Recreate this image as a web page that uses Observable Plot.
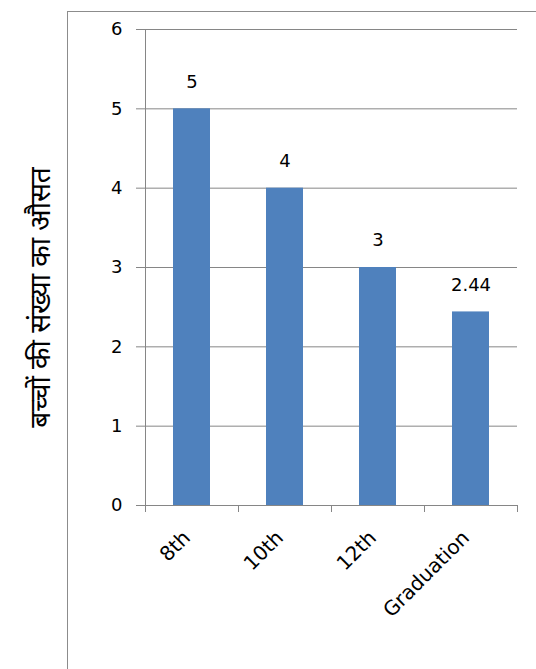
<!DOCTYPE html>
<html>
<head>
<meta charset="utf-8">
<script src="https://cdn.jsdelivr.net/npm/d3@7"></script>
<script src="https://cdn.jsdelivr.net/npm/@observablehq/plot@0.6"></script>
<style>
  html, body { margin: 0; padding: 0; background: #fff; }
  #wrap { position: relative; width: 536px; height: 669px; overflow: hidden; }
  #border { position: absolute; left: 67px; top: 11px; width: 600px; height: 700px;
            border-left: 1px solid #8c8c8c; border-top: 1px solid #8c8c8c; }
  #chart { position: absolute; left: 0; top: 0; }
</style>
</head>
<body>
<div id="wrap"><div id="border"></div><div id="chart"></div></div>
<script>
const categories = ["8th", "10th", "12th", "Graduation"];
const values = [5, 4, 3, 2.44];
const valueLabels = ["5", "4", "3", "2.44"];
const yTicks = [0, 1, 2, 3, 4, 5, 6];
const yTitle = "बच्चों की संख्या का औसत";

const data = categories.map((c, i) => ({cat: c, value: values[i], label: valueLabels[i]}));

const W = 536, H = 669, mL = 145, mR = 19, mT = 29, mB = 164;
const halfStep = (W - mL - mR) / categories.length / 2;
const gray = "#868686";

const chart = Plot.plot({
  width: W, height: H,
  marginLeft: mL, marginRight: mR, marginTop: mT, marginBottom: mB,
  style: {fontFamily: "'DejaVu Sans', Verdana, sans-serif", fontSize: "18px", color: "#000", background: "transparent"},
  x: {domain: categories, padding: 0, label: null},
  y: {domain: [0, 6], label: null},
  marks: [
    Plot.gridY(yTicks, {stroke: gray, strokeOpacity: 1, strokeWidth: 1}),
    Plot.axisY(yTicks, {tickSize: 9, tickPadding: 14, tickFormat: d => String(d), stroke: gray, strokeOpacity: 1, fill: "#000", fontSize: 18, label: null}),
    Plot.barY(data, {x: "cat", y: "value", fill: "#4F81BD", insetLeft: 28, insetRight: 28}),
    Plot.text(data, {x: "cat", y: "value", text: "label", dy: -27, fontSize: 18, fill: "#000"}),
    Plot.frame({anchor: "left", stroke: gray}),
    Plot.ruleY([0], {stroke: gray, strokeWidth: 1}),
    Plot.axisX({tickSize: 7, text: null, dx: -halfStep, stroke: gray, strokeOpacity: 1, label: null}),
    Plot.axisX([categories[categories.length - 1]], {tickSize: 7, text: null, dx: halfStep, stroke: gray, strokeOpacity: 1, label: null}),
    Plot.axisX({tickSize: 0, tickPadding: 29, tickRotate: -45, fontSize: 20, dx: -5, fill: "#000", label: null}),
    Plot.text([yTitle], {frameAnchor: "left", textAnchor: "middle", rotate: -90, dx: -104, dy: 30, fontSize: 28, fill: "#000",
      fontFamily: "'Noto Sans Devanagari', 'Noto Sans', sans-serif"})
  ]
});
document.getElementById("chart").appendChild(chart);
</script>
</body>
</html>
